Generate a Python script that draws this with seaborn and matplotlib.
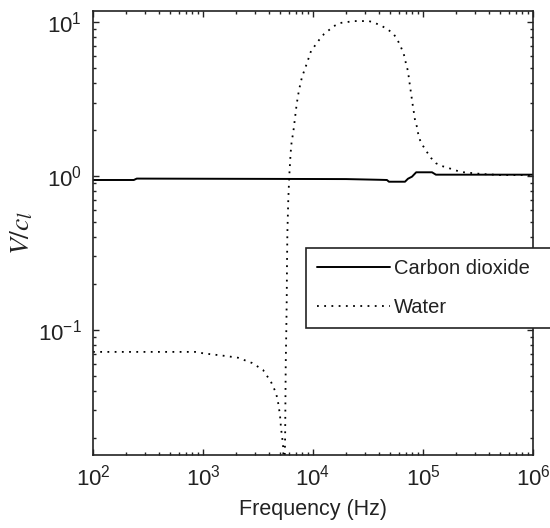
import numpy as np
import pandas as pd
import matplotlib
matplotlib.use("Agg")
import matplotlib.pyplot as plt
import matplotlib.ticker as mticker
import seaborn as sns

# ---------------- data ----------------
co2_freq = [100, 235, 250, 20000, 40000, 47000, 49000, 68600, 73000, 79400,
            86700, 120800, 131000, 1000000]
co2_ratio = [0.942, 0.942, 0.962, 0.955, 0.945, 0.942, 0.918, 0.918, 0.96, 0.99,
             1.057, 1.057, 1.02, 1.02]

water_freq = [100, 300, 880, 1000, 1585, 2080, 2790, 3510, 4150, 4610,
              4810, 5010, 5120, 5340, 5420, 5500, 5580, 5650, 5720, 5770,
              5800, 5850, 5960, 6090, 6260, 6390, 6620, 6860, 7110, 7460,
              7940, 8820, 9590, 11340, 12590, 13970, 15520, 17580, 20360, 23590,
              27880, 32280, 36620, 42390, 47070, 53350, 58020, 61800, 65770, 68590,
              69990, 73050, 74590, 76180, 77790, 79430, 81110, 82810, 84560, 88170,
              90160, 93970, 100000, 108700, 118300, 131300, 148900, 168800, 195400, 226300,
              278700, 343400, 501000, 1000000]
water_ratio = [0.072, 0.072, 0.072, 0.0705, 0.0678, 0.066, 0.061, 0.055, 0.046, 0.039,
               0.034, 0.028, 0.023, 0.018, 0.013, 0.012, 0.02, 0.06, 0.10, 0.16,
               0.26, 0.43, 0.70, 1.01, 1.41, 1.66, 1.93, 2.38, 2.94, 3.62,
               4.39, 5.42, 6.48, 7.64, 8.36, 8.87, 9.42, 9.86, 10.0, 10.15,
               10.15, 10.15, 9.86, 9.42, 9.0, 8.48, 7.76, 7.10, 6.39, 5.84,
               5.34, 4.81, 4.27, 3.84, 3.46, 3.12, 2.81, 2.56, 2.31, 2.08,
               1.90, 1.71, 1.57, 1.43, 1.31, 1.21, 1.16, 1.13, 1.09, 1.06,
               1.045, 1.03, 1.015, 1.015]

series_names = ["Carbon dioxide", "Water"]
x_ticks = [1e2, 1e3, 1e4, 1e5, 1e6]
y_ticks = [1e-1, 1e0, 1e1]

# ---------------- style ----------------
sns.set_theme(style="ticks")
plt.rcParams["font.family"] = ["Liberation Sans", "DejaVu Sans"]
plt.rcParams["mathtext.fontset"] = "custom"
plt.rcParams["mathtext.rm"] = "Liberation Sans"
plt.rcParams["mathtext.it"] = "Liberation Sans:italic"
plt.rcParams["text.color"] = "#222222"

fig = plt.figure(figsize=(5.5, 5.28), dpi=100)
ax = fig.add_axes([93 / 550, 1 - 455 / 528, 440 / 550, 444 / 528])

df_co2 = pd.DataFrame({"f": co2_freq, "v": co2_ratio})
df_w = pd.DataFrame({"f": water_freq, "v": water_ratio})

sns.lineplot(data=df_co2, x="f", y="v", ax=ax, color="black", lw=1.4,
             estimator=None, sort=False, label=series_names[0])
sns.lineplot(data=df_w, x="f", y="v", ax=ax, color="black", lw=1.3,
             estimator=None, sort=False, label=series_names[1],
             linestyle=(0, (1, 3)))

ax.set_xscale("log")
ax.set_yscale("log")
ax.set_xlim(1e2, 1e6)
ax.set_ylim(0.0154, 11.8)

ax.set_xticks(x_ticks)
ax.set_yticks(y_ticks)
ax.xaxis.set_major_formatter(mticker.LogFormatterSciNotation())
ax.yaxis.set_major_formatter(mticker.LogFormatterSciNotation())
ax.xaxis.set_minor_locator(mticker.LogLocator(base=10, subs=np.arange(2, 10)))
ax.yaxis.set_minor_locator(mticker.LogLocator(base=10, subs=np.arange(2, 10)))
ax.xaxis.set_minor_formatter(mticker.NullFormatter())
ax.yaxis.set_minor_formatter(mticker.NullFormatter())

ax.tick_params(which="both", direction="in", top=True, right=True,
               color="#222222", width=1.0, labelsize=16, labelcolor="#222222")
ax.tick_params(which="major", length=4.5)
ax.tick_params(which="minor", length=2.3)
ax.tick_params(axis="x", which="major", pad=7)
ax.tick_params(axis="y", which="major", pad=8)

for sp in ax.spines.values():
    sp.set_visible(True)
    sp.set_linewidth(1.2)
    sp.set_color("#222222")

ax.set_xlabel("Frequency (Hz)", fontsize=15.5, labelpad=6, color="#222222")
ax.set_ylabel("$V/c_l$", fontsize=20, math_fontfamily="stix", labelpad=2,
              color="#222222")

leg = ax.legend(loc="upper left", bbox_to_anchor=(0.484, 0.466, 0.6, 0.0),
                mode="expand", fontsize=14.5, frameon=True, fancybox=False,
                framealpha=1, edgecolor="#222222", handlelength=3.6,
                handletextpad=0.2, labelspacing=1.0, borderpad=0.55,
                borderaxespad=0)
leg.get_frame().set_linewidth(1.2)
for t in leg.get_texts():
    t.set_color("#222222")

fig.savefig("out.png", dpi=100)
